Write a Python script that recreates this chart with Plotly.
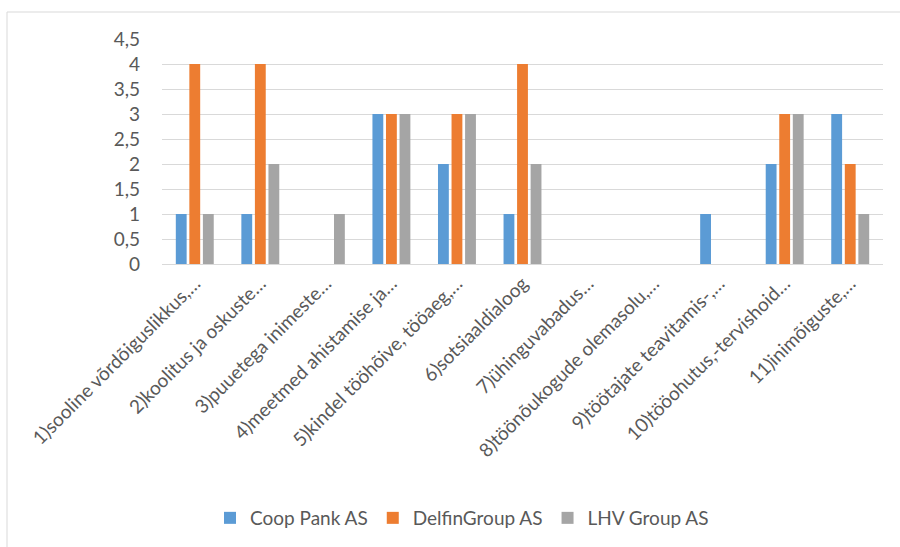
import plotly.graph_objects as go

categories = [
    "1)sooline võrdõiguslikkus,…",
    "2)koolitus ja oskuste…",
    "3)puuetega inimeste…",
    "4)meetmed ahistamise ja…",
    "5)kindel tööhõive, tööaeg,…",
    "6)sotsiaaldialoog",
    "7)ühinguvabadus…",
    "8)töönõukogude olemasolu,…",
    "9)töötajate teavitamis-,…",
    "10)tööohutus,-tervishoid…",
    "11)inimõiguste,…",
]
coop = [1, 1, 0, 3, 2, 1, 0, 0, 1, 2, 3]
delfin = [4, 4, 0, 3, 3, 4, 0, 0, 0, 3, 2]
lhv = [1, 2, 1, 3, 3, 2, 0, 0, 0, 3, 1]
series_names = ["Coop Pank AS", "DelfinGroup AS", "LHV Group AS"]
colors = ["#5B9BD5", "#ED7D31", "#A5A5A5"]

FONT = "Lato, Open Sans, sans-serif"
TXT = "#595959"
FS = 19

fig = go.Figure()
for name, vals, col in zip(series_names, [coop, delfin, lhv], colors):
    fig.add_trace(go.Bar(x=categories, y=vals, name=name, showlegend=False,
                         marker=dict(color=col, line=dict(width=0))))
# legend entries with square swatches
for name, col in zip(series_names, colors):
    fig.add_trace(go.Scatter(x=[None], y=[None], mode="markers", name=name,
                             marker=dict(symbol="square", size=12, color=col)))

L, R, T, B = 162, 17, 39, 283
W, H = 900, 547
pw, ph = W - L - R, H - T - B

def px(x):
    return (x - L) / pw

def py(y):
    return (H - B - y) / ph

fig.update_layout(
    width=W, height=H,
    margin=dict(l=L, r=R, t=T, b=B, autoexpand=False),
    paper_bgcolor="white", plot_bgcolor="white",
    barmode="group", bargap=0.38, bargroupgap=0.2,
    separators=", ",
    font=dict(family=FONT, size=FS, color=TXT),
    showlegend=True,
    legend=dict(orientation="h", x=px(462), xanchor="center", y=py(518), yanchor="middle",
                font=dict(family=FONT, size=FS, color=TXT), itemwidth=30,
                traceorder="normal"),
    xaxis=dict(tickangle=-45, showgrid=False, showline=True, linecolor="#D9D9D9",
               linewidth=1, ticks="", tickfont=dict(family=FONT, size=FS, color=TXT)),
    yaxis=dict(range=[0, 4.5], dtick=0.5, tick0=0, showgrid=True, gridcolor="#D9D9D9",
               gridwidth=1, zeroline=False, showline=False, ticks="",
               ticklabelstandoff=21,
               tickfont=dict(family=FONT, size=FS, color=TXT)),
    shapes=[
        dict(type="line", xref="paper", yref="paper", x0=px(7), x1=px(900), y0=py(12), y1=py(12),
             line=dict(color="#D9D9D9", width=1)),
        dict(type="line", xref="paper", yref="paper", x0=px(7), x1=px(7), y0=py(12), y1=py(547),
             line=dict(color="#D9D9D9", width=1)),
    ],
)

fig.write_html("out.html")
